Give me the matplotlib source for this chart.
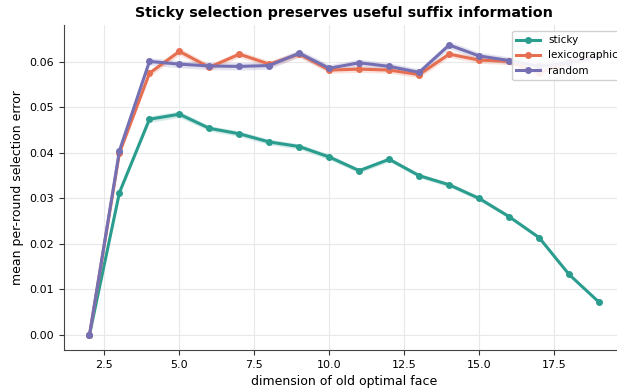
import matplotlib
matplotlib.use("Agg")
import matplotlib.pyplot as plt
import numpy as np

dims = [2, 3, 4, 5, 6, 7, 8, 9, 10, 11, 12, 13, 14, 15, 16, 17, 18, 19]
sticky = [0.0000, 0.0313, 0.0474, 0.0485, 0.0454, 0.0442, 0.0424, 0.0414, 0.0391,
          0.0361, 0.0386, 0.0350, 0.0330, 0.0300, 0.0260, 0.0214, 0.0133, 0.0072]
lexicographic = [0.0000, 0.0400, 0.0575, 0.0623, 0.0588, 0.0617, 0.0595, 0.0617, 0.0582,
                 0.0584, 0.0582, 0.0572, 0.0617, 0.0604, 0.0601, 0.0575, 0.0600, 0.0612]
random_sel = [0.0000, 0.0405, 0.0601, 0.0595, 0.0591, 0.0590, 0.0592, 0.0619, 0.0586,
              0.0598, 0.0590, 0.0577, 0.0637, 0.0613, 0.0603, 0.0590, 0.0598, 0.0612]
sticky_err = [0.0, 0.0005, 0.0007, 0.0007, 0.0006, 0.0006, 0.0006, 0.0006, 0.0006,
              0.0005, 0.0005, 0.0005, 0.0005, 0.0005, 0.0004, 0.0004, 0.0003, 0.0002]
lex_err = [0.0, 0.0006, 0.0007, 0.0008, 0.0007, 0.0007, 0.0007, 0.0007, 0.0007,
           0.0007, 0.0007, 0.0007, 0.0007, 0.0007, 0.0007, 0.0007, 0.0007, 0.0007]
rand_err = [0.0, 0.0006, 0.0008, 0.0008, 0.0008, 0.0008, 0.0008, 0.0008, 0.0008,
            0.0008, 0.0008, 0.0008, 0.0008, 0.0008, 0.0008, 0.0008, 0.0008, 0.0008]

series = [("sticky", sticky, sticky_err, "#2a9d8f"),
          ("lexicographic", lexicographic, lex_err, "#e76f51"),
          ("random", random_sel, rand_err, "#7570b3")]

fig = plt.figure(figsize=(6.17, 3.92), dpi=100)
ax = fig.add_axes([64/617, 1 - 350/392, (624.5 - 64)/617, (350 - 25)/392])

x = np.array(dims)
for name, vals, err, col in series:
    v = np.array(vals); e = np.array(err)
    ax.fill_between(x, v - e, v + e, color=col, alpha=0.2, linewidth=0)
    ax.plot(x, v, color=col, lw=2.2, marker="o", ms=4, label=name)

ax.set_xlim(1.15, 19.85)
ax.set_ylim(-0.0033, 0.0681)
ax.set_xticks([2.5, 5.0, 7.5, 10.0, 12.5, 15.0, 17.5])
ax.set_yticks([0.00, 0.01, 0.02, 0.03, 0.04, 0.05, 0.06])
ax.yaxis.set_major_formatter(matplotlib.ticker.FormatStrFormatter("%.2f"))
ax.xaxis.set_major_formatter(matplotlib.ticker.FormatStrFormatter("%.1f"))
ax.tick_params(labelsize=8, color="#333333", length=3.5)
ax.grid(True, color="#e8e8e8", lw=0.8)
ax.set_axisbelow(True)
for s in ["top", "right"]:
    ax.spines[s].set_visible(False)
for s in ["left", "bottom"]:
    ax.spines[s].set_color("#444444")

ax.set_xlabel("dimension of old optimal face", fontsize=9)
ax.set_ylabel("mean per-round selection error", fontsize=9)
ax.set_title("Sticky selection preserves useful suffix information", fontsize=10.3,
             fontweight="bold", pad=6)
ax.legend(loc="upper left", bbox_to_anchor=(512/617, 1 - 31/392),
          bbox_transform=fig.transFigure, borderaxespad=0,
          fontsize=7.5, frameon=True, framealpha=0.9,
          borderpad=0.4, handlelength=2.3, labelspacing=0.5)

fig.savefig("out.png", dpi=100)
